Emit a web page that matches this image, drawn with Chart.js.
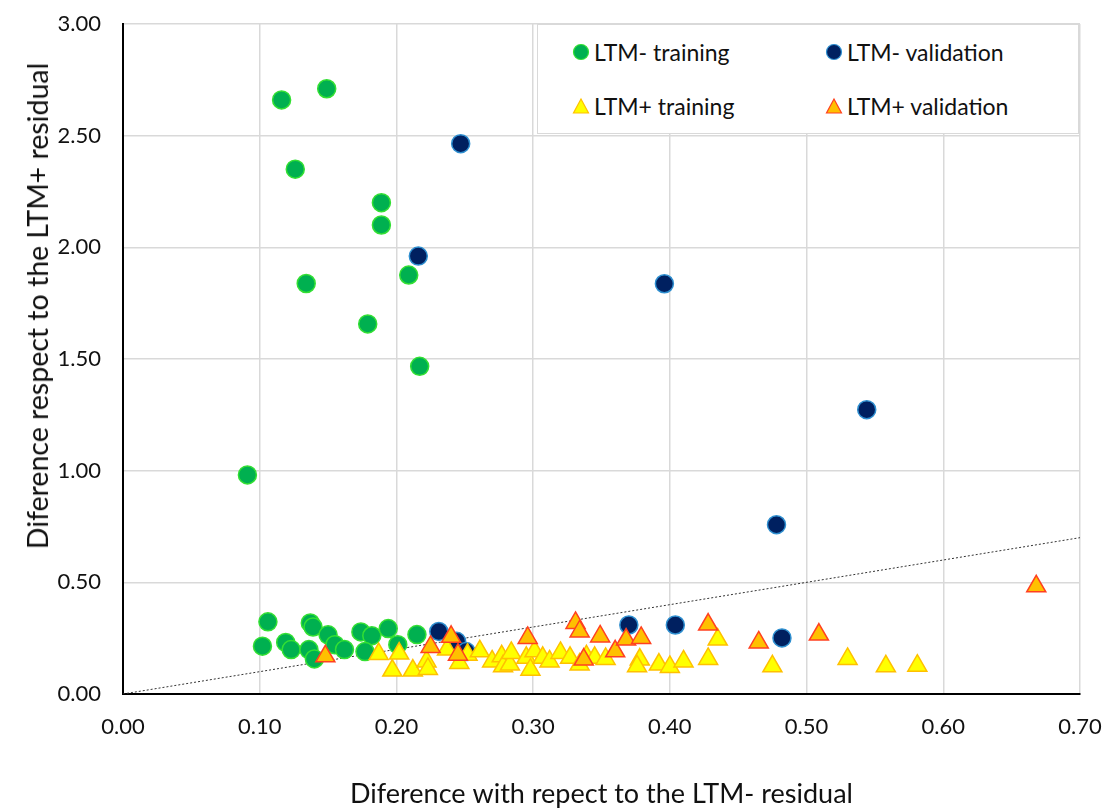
<!DOCTYPE html>
<html>
<head>
<meta charset="utf-8">
<script src="https://cdn.jsdelivr.net/npm/chart.js@4.4.0/dist/chart.umd.min.js"></script>
<style>
  html, body { margin: 0; padding: 0; background: #fff; }
  #wrap { position: relative; width: 1108px; height: 810px; }
  #legend {
    position: absolute; left: 537px; top: 24px; width: 542px; height: 110px;
    background: #fff; border: 1.5px solid #d9d9d9; box-sizing: border-box;
    font-family: Lato, "Open Sans", sans-serif; font-size: 23px; color: #111;
  }
  .item { position: absolute; display: flex; align-items: center; white-space: nowrap; }
  .item svg { margin-right: 4px; }
  #ytitle {
    position: absolute; left: 37px; top: 306px;
    transform: translate(-50%, -50%) rotate(-90deg);
    font-family: Lato, "Open Sans", sans-serif; font-size: 28.5px; color: #111;
    white-space: nowrap;
  }
</style>
</head>
<body>
<div id="wrap">
  <canvas id="chart" width="1108" height="810"></canvas>
  <div id="legend"></div>
  <div id="ytitle"></div>
</div>
<script>
// LTM- training (green circles)
const ltmMinusTrainX = [0.149, 0.116, 0.126, 0.189, 0.189, 0.209, 0.134, 0.179, 0.217, 0.091,
    0.106, 0.102, 0.119, 0.123, 0.137, 0.139, 0.150, 0.136, 0.140, 0.155, 0.162, 0.174, 0.182, 0.194, 0.177, 0.201, 0.215];
const ltmMinusTrainY = [2.71, 2.66, 2.35, 2.20, 2.10, 1.876, 1.838, 1.657, 1.467, 0.981,
    0.323, 0.214, 0.231, 0.199, 0.318, 0.300, 0.265, 0.199, 0.157, 0.221, 0.199, 0.278, 0.261, 0.293, 0.190, 0.221, 0.266];

// LTM- validation (navy circles)
const ltmMinusValX = [0.247, 0.216, 0.396, 0.544, 0.478, 0.231, 0.244, 0.251, 0.370, 0.404, 0.482];
const ltmMinusValY = [2.464, 1.961, 1.837, 1.273, 0.758, 0.280, 0.236, 0.190, 0.309, 0.309, 0.251];

// LTM+ training (yellow triangles)
const ltmPlusTrainX = [0.187, 0.197, 0.202, 0.212, 0.222, 0.223, 0.237, 0.246, 0.252, 0.261, 0.270, 0.277, 0.278,
    0.283, 0.284, 0.295, 0.298, 0.301, 0.307, 0.312, 0.320, 0.327, 0.334, 0.339, 0.345, 0.353, 0.378, 0.376,
    0.392, 0.400, 0.410, 0.428, 0.435, 0.475, 0.530, 0.558, 0.581];
const ltmPlusTrainY = [0.179, 0.105, 0.181, 0.105, 0.146, 0.112, 0.199, 0.139, 0.176, 0.191, 0.146, 0.169, 0.124,
    0.132, 0.184, 0.162, 0.109, 0.191, 0.162, 0.146, 0.184, 0.162, 0.132, 0.169, 0.162, 0.157, 0.154, 0.124,
    0.132, 0.121, 0.146, 0.157, 0.244, 0.124, 0.157, 0.124, 0.127];

// LTM+ validation (orange triangles)
const ltmPlusValX = [0.148, 0.225, 0.240, 0.245, 0.296, 0.331, 0.334, 0.337, 0.349, 0.360, 0.368, 0.379, 0.428, 0.465, 0.509, 0.668];
const ltmPlusValY = [0.169, 0.211, 0.256, 0.176, 0.251, 0.318, 0.280, 0.154, 0.258, 0.191, 0.244, 0.251, 0.311, 0.231, 0.266, 0.482];

// y = x reference line
const refLineX = [0, 0.7];
const refLineY = [0, 0.7];

const xTitle = 'Diference with repect to the LTM- residual';
const yTitle = 'Diference respect to the LTM+ residual';

function zip(xs, ys) {
    return xs.map((x, i) => ({ x: x, y: ys[i] }));
}

const series = [
    { label: 'LTM- training', data: zip(ltmMinusTrainX, ltmMinusTrainY), style: 'circle', bg: '#00b050', border: '#33e033', radius: 9, order: 4 },
    { label: 'LTM- validation', data: zip(ltmMinusValX, ltmMinusValY), style: 'circle', bg: '#002060', border: '#2e8fd0', radius: 9, order: 3 },
    { label: 'LTM+ training', data: zip(ltmPlusTrainX, ltmPlusTrainY), style: 'triangle', bg: '#ffff00', border: '#ffc000', radius: 11, order: 2 },
    { label: 'LTM+ validation', data: zip(ltmPlusValX, ltmPlusValY), style: 'triangle', bg: '#ffc000', border: '#ff4020', radius: 11, order: 1 },
];

const font = 'Lato, "Open Sans", sans-serif';

const datasets = series.map(s => ({
    type: 'scatter',
    label: s.label,
    data: s.data,
    pointStyle: s.style,
    pointRadius: s.radius,
    pointHoverRadius: s.radius,
    pointBackgroundColor: s.bg,
    pointBorderColor: s.border,
    pointBorderWidth: 1.5,
    order: s.order,
}));

datasets.push({
    type: 'line',
    label: 'y = x',
    data: zip(refLineX, refLineY),
    borderColor: '#333',
    borderWidth: 1,
    borderDash: [2, 2],
    pointRadius: 0,
    fill: false,
    order: 5,
});

// invisible tick marks give the label gap without adding to the edge padding
new Chart(document.getElementById('chart'), {
    data: { datasets: datasets },
    options: {
        responsive: false,
        animation: false,
        layout: { padding: { top: 24, right: 28, left: 0, bottom: 0 } },
        plugins: {
            legend: { display: false },
            tooltip: { enabled: false },
        },
        scales: {
            x: {
                type: 'linear',
                min: 0,
                max: 0.7,
                afterFit: function(scale) { scale.height = 116; },
                ticks: {
                    stepSize: 0.1,
                    padding: 0,
                    color: '#111',
                    font: { family: font, size: 22 },
                    callback: v => v.toFixed(2),
                },
                grid: { color: '#d9d9d9', lineWidth: 1.5, drawTicks: true, tickLength: 20, tickColor: 'rgba(0,0,0,0)' },
                border: { color: '#000', width: 2 },
                title: {
                    display: true,
                    text: xTitle,
                    color: '#111',
                    font: { family: font, size: 27 },
                    padding: { top: 0, bottom: 0 },
                },
            },
            y: {
                type: 'linear',
                min: 0,
                max: 3,
                afterFit: function(scale) { scale.width = 123; },
                ticks: {
                    stepSize: 0.5,
                    padding: 0,
                    color: '#111',
                    font: { family: font, size: 22 },
                    callback: v => v.toFixed(2),
                },
                grid: { color: '#d9d9d9', lineWidth: 1.5, drawTicks: true, tickLength: 22, tickColor: 'rgba(0,0,0,0)' },
                border: { color: '#000', width: 2 },
                title: { display: false },
            },
        },
    },
});

document.getElementById('ytitle').textContent = yTitle;

// HTML legend inside the plot area, 2 x 2
const legendPos = [
    { left: 34, top: 13 },
    { left: 287, top: 13 },
    { left: 34, top: 67 },
    { left: 287, top: 67 },
];
const legendEl = document.getElementById('legend');
series.forEach((s, i) => {
    const div = document.createElement('div');
    div.className = 'item';
    div.style.left = legendPos[i].left + 'px';
    div.style.top = legendPos[i].top + 'px';
    let icon;
    if (s.style === 'circle') {
        icon = '<svg width="18" height="18"><circle cx="9" cy="9" r="7.5" fill="' + s.bg + '" stroke="' + s.border + '" stroke-width="1.2"/></svg>';
    } else {
        icon = '<svg width="18" height="18"><polygon points="9,2 16.5,16 1.5,16" fill="' + s.bg + '" stroke="' + s.border + '" stroke-width="1.2"/></svg>';
    }
    div.innerHTML = icon + '<span>' + s.label + '</span>';
    legendEl.appendChild(div);
});
</script>
</body>
</html>
